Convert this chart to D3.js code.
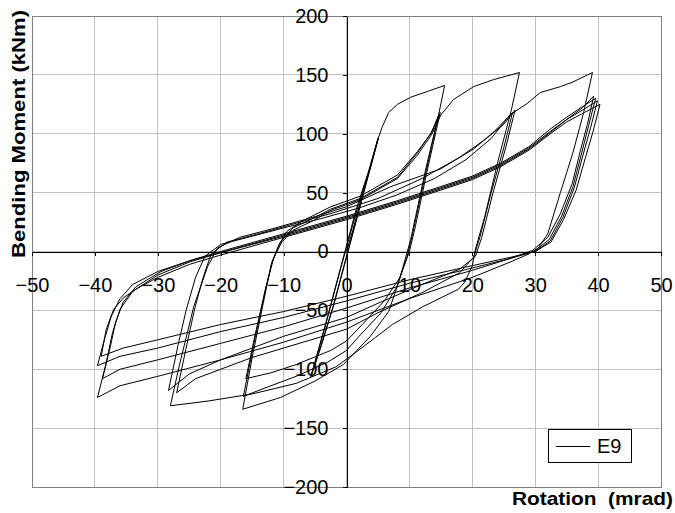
<!DOCTYPE html>
<html>
<head>
<meta charset="utf-8">
<script src="https://cdn.jsdelivr.net/npm/d3@7"></script>
<style>
  html, body { margin: 0; padding: 0; background: #fff; }
  svg { display: block; }
</style>
</head>
<body>
<div id="chart"></div>
<script>
// axis ticks
const xTicks = [-50, -40, -30, -20, -10, 0, 10, 20, 30, 40, 50]
const yTicks = [-200, -150, -100, -50, 0, 50, 100, 150, 200]
const seriesName = 'E9'

// rotation (mrad), bending moment (kNm), in test order
const elasticCycles = [
  [0, 0], [1, 18], [2.5, 48], [4, 75], [5.1, 97],
  [3, 55], [0.5, 5], [-2, -45], [-4, -80], [-5.7, -107],
  [-3.5, -65], [-1, -15], [1.5, 35], [3.5, 68], [5.0, 96],
  [2.8, 52], [0.3, 2], [-2.2, -48], [-4.2, -82], [-5.6, -105],
  [-3.3, -62], [-0.8, -12], [1.8, 38], [3.8, 72], [5.1, 97]
]

const cycles15 = [
  [5.7, 106], [6.7, 118], [8.1, 125], [10.2, 131], [12.9, 136], [15.6, 141],
  [14.6, 115], [12.6, 70], [11, 30], [10.2, 10], [8.3, -26], [6.7, -51], [3.8, -72], [-0.5, -96], [-5, -110], [-10.5, -124], [-16.5, -134],
  [-15, -90], [-13.2, -43], [-12, -12], [-10.8, 5], [-9.5, 17], [-7, 26], [-2.5, 38], [2.2, 47], [8.1, 65], [11.3, 85], [13.4, 100], [14.6, 115],
  [12.4, 62], [10.5, 15], [9.6, -5], [8, -30], [5.5, -52], [2, -72], [0, -84], [-3, -94], [-8, -106], [-12.5, -115], [-16.4, -123],
  [-14.8, -80], [-13, -35], [-11.8, -8], [-10.5, 8], [-8.5, 20], [-5, 29], [-2.5, 36], [2.2, 45], [8.1, 63], [11.3, 84], [13.6, 102], [14.9, 118],
  [12.8, 68], [10.9, 20], [10, 0], [8.5, -22], [6, -42], [2.5, -62], [0, -76], [-2.5, -84], [-8, -96], [-12, -103], [-16, -108]
]

const cycles27 = [
  [-14.5, -70], [-12.8, -30], [-11.6, -6], [-10.3, 8], [-8.5, 18], [-5, 27], [-2.5, 35], [2.2, 44], [8.1, 62], [11.3, 82], [13.6, 100], [15, 116], [17, 129], [20.2, 140], [23.4, 146], [27.5, 152],
  [26.2, 120], [24, 75], [22, 30], [20.5, 2], [20, -12], [18.8, -26], [17.8, -32], [12.1, -47], [7.3, -62], [4.6, -73], [1.4, -86], [-1.7, -98], [-8, -112], [-15, -121], [-22, -127], [-28, -131],
  [-26.5, -95], [-25.3, -69], [-24.3, -47], [-22.1, -13], [-20.5, 3], [-17, 12], [-12, 19], [-6, 28], [0, 38], [7, 55], [14.9, 70], [20.2, 87], [23.5, 102], [26.4, 118],
  [25, 88], [23, 50], [21.2, 12], [20.2, -5], [18, -18], [12, -35], [5, -52], [0, -66], [-5, -74], [-10, -82], [-15, -90], [-20, -100], [-24, -108], [-27, -120],
  [-25.5, -82], [-24.2, -50], [-22.8, -22], [-21.5, -2], [-19, 8], [-14, 15], [-8, 24], [-2, 33], [5, 45], [12, 62], [18, 80], [22, 95], [25, 108], [26.8, 120],
  [25.3, 88], [23.3, 50], [21.5, 12], [20.5, -4], [18, -15], [12, -28], [5, -44], [0, -56], [-5, -64], [-10, -72], [-15, -82], [-20, -92], [-25, -104], [-28.3, -118]
]

const cycles40 = [
  [-26.8, -80], [-25.5, -50], [-24, -22], [-22.5, -4], [-20, 6], [-15, 13], [-10, 20], [-4, 28], [2, 37], [8, 48], [14, 62], [19, 78], [23, 96], [26, 116], [28.8, 126], [30.8, 135], [34, 140], [36, 144], [39.1, 152],
  [37.7, 118], [36, 84], [34, 50], [32, 15], [30.5, 3], [29, -2], [26, -9], [20, -22], [10, -40], [0, -60], [-10, -77], [-20, -92], [-30, -106], [-36, -114], [-39.6, -124],
  [-38.3, -97], [-37.2, -69], [-36, -49], [-34, -34], [-30, -20], [-25, -9], [-20, -1], [-10, 14], [0, 29], [8, 42], [14.9, 54], [20, 63], [24.5, 74], [29, 88], [32.4, 102], [35, 112], [37.5, 122], [39.3, 132],
  [38.3, 108], [37.2, 86], [35.9, 58], [34, 32], [32, 12], [29.6, 1], [26, -6], [20, -16], [10, -31], [0, -48], [-10, -64], [-20, -78], [-30, -92], [-36, -100], [-38.8, -108],
  [-37.6, -82], [-36.7, -60], [-35.5, -43], [-33.5, -30], [-29.5, -17], [-24.5, -7], [-20, 0], [-10, 15], [0, 30], [8, 43], [14.9, 55], [20, 64], [24.5, 75], [29, 89], [32.4, 104], [35, 114], [37.5, 123], [39.6, 130],
  [38.5, 107], [37.4, 84], [36, 55], [34.2, 30], [32.2, 10], [29.8, 0], [26, -6], [20, -14], [10, -27], [0, -42], [-10, -56], [-20, -68], [-30, -82], [-36, -89], [-39.6, -97],
  [-38.5, -75], [-37.4, -55], [-36, -40], [-34, -28], [-30, -17], [-25, -8], [-20, -1], [-10, 13], [0, 28], [8, 41], [14.9, 53], [20, 62], [24.5, 73], [29, 87], [32.4, 101], [35, 112], [37.8, 121], [39.9, 128],
  [38.8, 105], [37.6, 82], [36.2, 54], [34.4, 29], [32.4, 9], [30, 0], [26, -5], [20, -12], [10, -24], [0, -38], [-10, -51], [-20, -62], [-30, -75], [-35.5, -82], [-39, -89],
  [-38.2, -66], [-37, -49], [-35.4, -39], [-33.2, -31], [-30, -22], [-25, -11], [-20, -3], [-10, 12], [0, 27], [8, 40], [14.9, 52], [20, 61], [24.5, 72], [29, 86], [32.4, 100], [35, 110], [37.8, 118], [40.3, 125],
  [39.2, 102], [38, 80], [36.5, 52], [34.5, 27], [32.5, 8], [30, 0]
]

const loop = [...elasticCycles, ...cycles15, ...cycles27, ...cycles40]

const W = 675, H = 513
const plot = { left: 32, right: 661, top: 16, bottom: 487 }
const font = "'Liberation Sans', Arial, sans-serif"

const svg = d3.select('#chart').append('svg').attr('width', W).attr('height', H)

const x = d3.scaleLinear().domain([-50, 50]).range([plot.left, plot.right])
const y = d3.scaleLinear().domain([-200, 200]).range([plot.bottom, plot.top])

// gridlines
const grid = svg.append('g').attr('stroke', '#c0c0c0').attr('stroke-width', 1).attr('shape-rendering', 'crispEdges')
grid.selectAll('.gx').data(xTicks).join('line')
  .attr('x1', d => x(d)).attr('x2', d => x(d)).attr('y1', plot.top).attr('y2', plot.bottom)
grid.selectAll('.gy').data(yTicks).join('line')
  .attr('x1', plot.left).attr('x2', plot.right).attr('y1', d => y(d)).attr('y2', d => y(d))

// plot frame
svg.append('rect')
  .attr('x', plot.left).attr('y', plot.top)
  .attr('width', plot.right - plot.left).attr('height', plot.bottom - plot.top)
  .attr('fill', 'none').attr('stroke', '#808080').attr('shape-rendering', 'crispEdges')

// axes crossing at the origin
const yAxis = svg.append('g')
  .attr('transform', `translate(${x(0)},0)`)
  .call(d3.axisLeft(y).tickValues(yTicks).tickSizeInner(4).tickSizeOuter(0).tickPadding(14))
const xAxis = svg.append('g')
  .attr('transform', `translate(0,${y(0)})`)
  .call(d3.axisBottom(x).tickValues(xTicks).tickSizeInner(4).tickSizeOuter(0).tickPadding(22))

;[xAxis, yAxis].forEach(a => {
  a.attr('font-family', font).attr('font-size', 20)
  a.selectAll('path, line').attr('stroke', '#000').attr('shape-rendering', 'crispEdges')
  a.selectAll('text').attr('fill', '#000')
})

// hysteresis curve
const line = d3.line().x(d => x(d[0])).y(d => y(d[1]))
svg.append('path')
  .datum(loop)
  .attr('fill', 'none')
  .attr('stroke', '#000')
  .attr('stroke-width', 1)
  .attr('stroke-linejoin', 'round')
  .attr('d', line)

// axis titles
svg.append('text')
  .attr('transform', 'translate(25,134) rotate(-90)')
  .attr('text-anchor', 'middle')
  .attr('font-family', font).attr('font-size', 19).attr('font-weight', 'bold')
  .attr('textLength', 248).attr('lengthAdjust', 'spacingAndGlyphs')
  .text('Bending Moment (kNm)')

svg.append('text')
  .attr('x', 512).attr('y', 505)
  .attr('font-family', font).attr('font-size', 19).attr('font-weight', 'bold')
  .attr('textLength', 161).attr('lengthAdjust', 'spacingAndGlyphs')
  .attr('xml:space', 'preserve')
  .text('Rotation  (mrad)')

// legend
const legend = svg.append('g').attr('transform', 'translate(548,429)')
legend.append('rect').attr('width', 83).attr('height', 33)
  .attr('fill', '#fff').attr('stroke', '#000').attr('shape-rendering', 'crispEdges')
legend.append('line').attr('x1', 8).attr('x2', 42).attr('y1', 17).attr('y2', 17)
  .attr('stroke', '#000').attr('shape-rendering', 'crispEdges')
legend.append('text').attr('x', 49).attr('y', 24)
  .attr('font-family', font).attr('font-size', 20)
  .text(seriesName)
</script>
</body>
</html>
